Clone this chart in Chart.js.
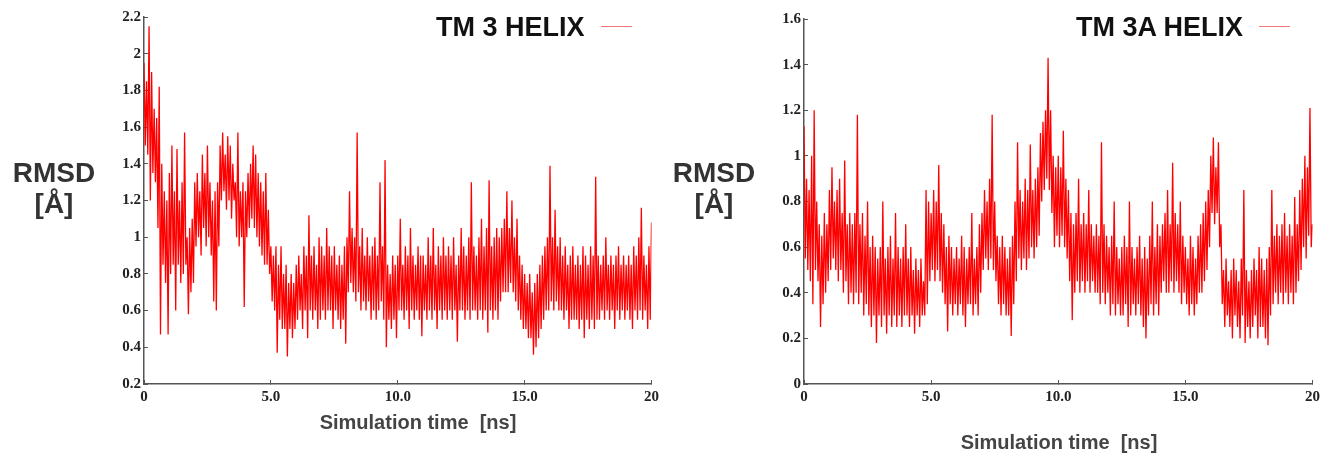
<!DOCTYPE html>
<html lang="en">
<head>
<meta charset="UTF-8">
<title>RMSD TM 3 / TM 3A helix</title>
<script src="https://cdn.jsdelivr.net/npm/chart.js@4.4.1/dist/chart.umd.min.js"></script>
<style>
body { margin: 0; background: #fff; width: 1327px; height: 453px; position: relative; overflow: hidden; font-family: "Liberation Sans", Arial, sans-serif; }
.panel { position: absolute; top: 0; }
.ylab { position: absolute; font-weight: bold; font-size: 28px; line-height: 31px; color: #333; text-align: center; transform: translateX(-50%); white-space: nowrap; }
.xlab { position: absolute; font-weight: bold; font-size: 20px; line-height: 20px; color: #444; transform: translateX(-50%); white-space: pre; }
.legend { position: absolute; font-weight: bold; font-size: 27px; line-height: 27px; color: #111; white-space: nowrap; }
.legend span { display: inline-block; width: 31px; height: 0; border-top: 1px solid #f07878; vertical-align: middle; margin-left: 16px; position: relative; top: -2px; }
</style>
</head>
<body>
<div class="panel" style="left:0"><canvas id="tm3" width="667" height="453"></canvas></div>
<div class="panel" style="left:660px"><canvas id="tm3a" width="668" height="453"></canvas></div>

<div class="ylab" style="left:54px; top:157px">RMSD<br>[Å]</div>
<div class="ylab" style="left:714px; top:157px">RMSD<br>[Å]</div>
<div class="xlab" style="left:418px; top:412px">Simulation time  [ns]</div>
<div class="xlab" style="left:1059px; top:432px">Simulation time  [ns]</div>
<div class="legend" style="left:436px; top:14px">TM 3 HELIX<span></span></div>
<div class="legend" style="left:1076px; top:14px">TM 3A HELIX<span></span></div>

<script>
// sampling grid, ns (every 0.05 ns)
const times = Array.from({ length: 401 }, (_, i) => +(i * 0.05).toFixed(2));

// TM 3 helix RMSD (Å), one row per ns
const tm3Rmsd = [
  1.95, 1.5, 1.85, 1.45, 2.15, 1.2, 1.9, 1.35, 1.7, 1.3,
  1.65, 1.05, 1.82, 0.47, 1.4, 0.85, 1.25, 0.75, 1.2, 0.47,
  1.35, 0.8, 1.5, 0.85, 1.25, 0.6, 1.48, 0.85, 1.2, 0.75,
  1.3, 0.8, 1.57, 0.85, 1.0, 0.58, 1.05, 0.7, 1.1, 0.75,
  1.3, 0.95, 1.35, 1.0, 1.25, 0.9, 1.45, 1.05, 1.35, 0.95,
  1.5, 1.0, 1.3, 0.9, 1.2, 0.65, 1.25, 0.6, 1.3, 0.95,
  1.5, 1.2, 1.57, 1.25, 1.45, 1.15, 1.55, 1.2, 1.5, 1.1,
  1.4, 1.2, 1.3, 1.0, 1.57, 0.95, 1.25, 1.0, 1.3, 0.62,
  1.25, 1.0, 1.35, 1.05, 1.4, 1.1, 1.5, 1.05, 1.45, 1.0,
  1.35, 0.95, 1.3, 0.9, 1.25, 0.85, 1.35, 0.85, 1.15, 0.8,
  0.95, 0.65, 0.9, 0.6, 0.95, 0.37, 0.85, 0.55, 0.95, 0.5,
  0.8, 0.5, 0.85, 0.35, 0.75, 0.5, 0.8, 0.45, 0.75, 0.5,
  0.85, 0.55, 0.9, 0.6, 0.8, 0.5, 0.95, 0.6, 0.9, 0.45,
  1.12, 0.6, 0.9, 0.55, 0.95, 0.6, 0.85, 0.5, 1.0, 0.55,
  0.95, 0.6, 0.9, 0.55, 1.05, 0.6, 0.95, 0.6, 0.9, 0.5,
  0.95, 0.6, 0.85, 0.55, 0.9, 0.5, 0.85, 0.55, 0.95, 0.42,
  1.0, 0.7, 1.25, 0.75, 1.05, 0.7, 1.0, 0.65, 1.57, 0.7,
  0.95, 0.6, 1.05, 0.65, 0.9, 0.6, 1.0, 0.65, 0.9, 0.55,
  0.95, 0.6, 1.0, 0.55, 0.9, 0.6, 1.3, 0.65, 0.95, 0.55,
  1.42, 0.4, 0.85, 0.55, 0.8, 0.5, 0.9, 0.55, 0.85, 0.45,
  0.9, 0.6, 1.1, 0.6, 0.85, 0.55, 0.95, 0.6, 0.9, 0.5,
  1.05, 0.6, 0.9, 0.55, 0.85, 0.6, 0.95, 0.55, 0.9, 0.46,
  0.9, 0.6, 0.85, 0.55, 1.0, 0.6, 0.9, 0.55, 1.05, 0.6,
  0.85, 0.5, 0.95, 0.6, 0.9, 0.55, 1.0, 0.6, 0.9, 0.55,
  0.95, 0.6, 0.9, 0.55, 1.0, 0.6, 0.85, 0.43, 0.9, 0.6,
  1.05, 0.6, 0.95, 0.55, 0.9, 0.6, 1.0, 0.55, 1.3, 0.6,
  0.95, 0.6, 0.9, 0.55, 1.0, 0.6, 1.1, 0.55, 0.95, 0.6,
  1.05, 0.48, 1.31, 0.6, 0.95, 0.55, 1.0, 0.6, 1.05, 0.55,
  1.0, 0.65, 1.05, 0.7, 1.1, 0.7, 1.25, 0.7, 1.05, 0.75,
  1.2, 0.7, 1.0, 0.65, 1.1, 0.6, 0.9, 0.55, 0.85, 0.5,
  0.8, 0.5, 0.75, 0.45, 0.8, 0.45, 0.7, 0.36, 0.75, 0.4,
  0.8, 0.45, 0.85, 0.5, 0.9, 0.55, 0.95, 0.6, 1.0, 0.6,
  1.39, 0.65, 1.0, 0.6, 1.15, 0.65, 0.95, 0.6, 1.0, 0.6,
  0.9, 0.55, 0.95, 0.6, 0.85, 0.5, 0.9, 0.55, 0.95, 0.55,
  0.85, 0.55, 0.9, 0.5, 0.85, 0.55, 0.95, 0.45, 0.9, 0.55,
  0.85, 0.5, 0.95, 0.55, 0.9, 0.5, 1.33, 0.55, 0.9, 0.55,
  0.85, 0.6, 0.9, 0.55, 1.0, 0.6, 0.85, 0.55, 0.9, 0.6,
  0.85, 0.5, 0.9, 0.6, 0.95, 0.55, 0.85, 0.6, 0.9, 0.55,
  0.85, 0.6, 0.9, 0.55, 0.85, 0.5, 0.95, 0.6, 0.9, 0.55,
  1.0, 0.6, 1.16, 0.55, 0.9, 0.6, 0.85, 0.5, 0.95, 0.55,
  1.08
];

// TM 3A helix RMSD (Å), one row per ns
const tm3aRmsd = [
  1.13, 0.55, 0.9, 0.5, 0.85, 0.45, 1.0, 0.35, 1.2, 0.5,
  0.8, 0.45, 0.7, 0.25, 0.65, 0.35, 0.75, 0.4, 0.7, 0.45,
  0.85, 0.5, 0.95, 0.55, 0.8, 0.5, 0.85, 0.45, 0.9, 0.5,
  0.75, 0.4, 0.98, 0.45, 0.7, 0.35, 0.75, 0.4, 0.7, 0.35,
  0.75, 0.4, 1.18, 0.35, 0.7, 0.4, 0.75, 0.3, 0.65, 0.35,
  0.8, 0.3, 0.6, 0.25, 0.65, 0.3, 0.6, 0.18, 0.55, 0.3,
  0.6, 0.25, 0.8, 0.3, 0.55, 0.22, 0.6, 0.3, 0.65, 0.25,
  0.55, 0.3, 0.75, 0.25, 0.6, 0.3, 0.55, 0.25, 0.6, 0.3,
  0.7, 0.3, 0.55, 0.25, 0.6, 0.3, 0.5, 0.22, 0.55, 0.3,
  0.5, 0.25, 0.55, 0.3, 0.45, 0.3, 0.85, 0.35, 0.8, 0.45,
  0.75, 0.5, 0.85, 0.45, 0.8, 0.5, 0.96, 0.45, 0.75, 0.4,
  0.7, 0.35, 0.6, 0.23, 0.65, 0.35, 0.6, 0.3, 0.55, 0.35,
  0.6, 0.3, 0.55, 0.35, 0.65, 0.3, 0.6, 0.25, 0.55, 0.35,
  0.6, 0.35, 0.75, 0.3, 0.55, 0.35, 0.6, 0.3, 0.7, 0.4,
  0.75, 0.5, 0.85, 0.55, 0.8, 0.5, 0.9, 0.55, 1.18, 0.5,
  0.8, 0.45, 0.65, 0.35, 0.6, 0.3, 0.65, 0.35, 0.6, 0.3,
  0.55, 0.3, 0.6, 0.21, 0.65, 0.35, 0.8, 0.45, 1.06, 0.55,
  0.85, 0.5, 0.8, 0.55, 0.9, 0.5, 0.85, 0.55, 1.05, 0.6,
  0.85, 0.55, 0.9, 0.6, 0.95, 0.65, 1.1, 0.8, 1.15, 0.85,
  1.2, 0.9, 1.43, 0.85, 1.2, 0.75, 1.0, 0.6, 0.95, 0.65,
  1.0, 0.6, 0.95, 0.65, 1.11, 0.6, 0.9, 0.55, 0.85, 0.45,
  0.75, 0.28, 0.7, 0.4, 0.75, 0.45, 0.9, 0.4, 0.7, 0.45,
  0.75, 0.4, 0.7, 0.45, 0.85, 0.4, 0.7, 0.45, 0.65, 0.4,
  0.7, 0.4, 0.65, 0.35, 1.06, 0.4, 0.7, 0.35, 0.65, 0.4,
  0.6, 0.3, 0.65, 0.35, 0.8, 0.3, 0.6, 0.35, 0.55, 0.3,
  0.6, 0.3, 0.65, 0.35, 0.6, 0.25, 0.8, 0.3, 0.6, 0.35,
  0.55, 0.3, 0.6, 0.35, 0.65, 0.3, 0.55, 0.25, 0.6, 0.2,
  0.55, 0.3, 0.65, 0.35, 0.8, 0.3, 0.6, 0.35, 0.7, 0.3,
  0.65, 0.4, 0.7, 0.45, 0.75, 0.4, 0.85, 0.4, 0.7, 0.45,
  0.97, 0.4, 0.75, 0.45, 0.7, 0.4, 0.8, 0.35, 0.65, 0.4,
  0.6, 0.35, 0.55, 0.3, 0.65, 0.35, 0.6, 0.3, 0.55, 0.35,
  0.65, 0.4, 0.7, 0.4, 0.75, 0.45, 0.8, 0.5, 0.85, 0.6,
  1.0, 0.75, 1.08, 0.7, 0.95, 0.75, 1.06, 0.6, 0.7, 0.35,
  0.5, 0.25, 0.55, 0.3, 0.45, 0.25, 0.5, 0.2, 0.55, 0.3,
  0.5, 0.25, 0.45, 0.2, 0.55, 0.3, 0.85, 0.18, 0.5, 0.25,
  0.45, 0.2, 0.5, 0.25, 0.55, 0.3, 0.5, 0.2, 0.6, 0.25,
  0.55, 0.25, 0.5, 0.2, 0.55, 0.17, 0.6, 0.3, 0.85, 0.35,
  0.65, 0.4, 0.7, 0.35, 0.65, 0.4, 0.7, 0.35, 0.75, 0.4,
  0.65, 0.35, 0.7, 0.4, 0.65, 0.35, 0.82, 0.4, 0.7, 0.45,
  0.85, 0.5, 0.9, 0.6, 1.0, 0.55, 0.95, 0.65, 1.21, 0.6,
  0.7
];

// axis ticks
const xTickValues = [0, 5, 10, 15, 20];
const xTickLabels = ['0', '5.0', '10.0', '15.0', '20'];
const tm3YTicks = [0.2, 0.4, 0.6, 0.8, 1.0, 1.2, 1.4, 1.6, 1.8, 2.0, 2.2];
const tm3YLabels = ['0.2', '0.4', '0.6', '0.8', '1', '1.2', '1.4', '1.6', '1.8', '2', '2.2'];
const tm3aYTicks = [0, 0.2, 0.4, 0.6, 0.8, 1.0, 1.2, 1.4, 1.6];
const tm3aYLabels = ['0', '0.2', '0.4', '0.6', '0.8', '1', '1.2', '1.4', '1.6'];

const tickFont = { family: '"Liberation Serif", "Times New Roman", serif', size: 15, weight: 'bold' };
const axisColor = '#555';

function drawPanel(id, values, yTicks, yLabels, padTop, padRight) {
  const ctx = document.getElementById(id).getContext('2d');
  return new Chart(ctx, {
    type: 'line',
    data: {
      datasets: [{
        data: times.map((t, i) => ({ x: t, y: values[i] })),
        borderColor: '#ff0000',
        borderWidth: 1.3,
        pointRadius: 0,
        tension: 0
      }]
    },
    options: {
      responsive: false,
      animation: false,
      layout: { padding: { top: padTop, right: padRight, left: 0, bottom: 0 } },
      plugins: { legend: { display: false }, tooltip: { enabled: false } },
      scales: {
        x: {
          type: 'linear',
          min: 0,
          max: 20,
          afterBuildTicks: s => { s.ticks = xTickValues.map(v => ({ value: v })); },
          afterFit: s => { s.height = 69; },
          ticks: {
            autoSkip: false,
            maxRotation: 0,
            padding: 8,
            color: '#222',
            font: tickFont,
            callback: (v, i) => xTickLabels[i]
          },
          grid: { drawOnChartArea: false, tickLength: -4, color: axisColor },
          border: { color: axisColor, width: 1.5 }
        },
        y: {
          min: yTicks[0],
          max: yTicks[yTicks.length - 1],
          afterBuildTicks: s => { s.ticks = yTicks.map(v => ({ value: v })); },
          afterFit: s => { s.width = 144; },
          ticks: {
            autoSkip: false,
            padding: 7,
            color: '#222',
            font: tickFont,
            callback: (v, i) => yLabels[i]
          },
          grid: { drawOnChartArea: false, tickLength: -4, color: axisColor },
          border: { color: axisColor, width: 1.5 }
        }
      }
    }
  });
}

drawPanel('tm3', tm3Rmsd, tm3YTicks, tm3YLabels, 17, 15);
drawPanel('tm3a', tm3aRmsd, tm3aYTicks, tm3aYLabels, 19, 15);
</script>
</body>
</html>
